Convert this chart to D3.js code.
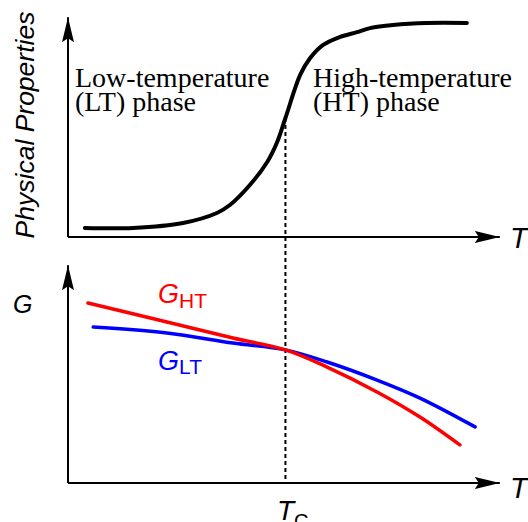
<!DOCTYPE html>
<html lang="en">
<head>
    <meta charset="UTF-8">
    <title>Phase transition sketch</title>
    <script src="https://d3js.org/d3.v7.min.js"></script>
    <style>
        body{ margin: 0; background: white; }
        .sans{ font-family: "Liberation Sans", Arial, sans-serif; font-style: italic; }
        .serif{ font-family: "Liberation Serif", "Times New Roman", serif; }
    </style>
</head>
<body>
<svg id="canvas" width="528" height="522"></svg>
<script>
    // T in arbitrary units (0..100), Tc where the curves cross
    let Tc = 50.1;
    // top panel: physical property vs T
    let propT = [3.9, 15.0, 26.5, 34.3, 37.3, 41.9, 45.9, 48.2, 50.1, 53.5, 55.8, 58.8, 62.7, 66.6, 69.6, 74.9, 82.7, 91.9];
    let propV = [4.1, 4.1, 6.3, 10.8, 14.4, 23.4, 33.8, 42.8, 53.6, 73.0, 80.6, 86.5, 90.1, 92.3, 94.1, 95.5, 96.4, 96.4];
    // bottom panel: free energies
    let gHtT = [4.6, 22.8, 38.0, 50.1, 59.7, 71.2, 81.1, 90.3];
    let gHtV = [81.8, 73.2, 65.9, 60.5, 52.7, 41.4, 30.0, 17.3];
    let gLtT = [5.8, 22.8, 38.0, 50.1, 59.7, 71.2, 81.1, 93.8];
    let gLtV = [70.9, 68.2, 63.6, 60.5, 55.0, 46.8, 38.6, 25.5];

    let svg = d3.select('#canvas');

    // arrow head
    svg.append('defs').append('marker')
        .attr('id', 'arrow')
        .attr('viewBox', '0 -7 26 14')
        .attr('refX', 25).attr('refY', 0)
        .attr('markerUnits', 'userSpaceOnUse')
        .attr('markerWidth', 26).attr('markerHeight', 14)
        .attr('orient', 'auto')
        .append('path')
        .attr('d', 'M0,-6 L25,0 L0,6 L4,0 Z')
        .attr('fill', 'black');

    let x = d3.scaleLinear().domain([0, 100]).range([68, 502]);
    let yTop = d3.scaleLinear().domain([0, 100]).range([237, 15]);
    let yBot = d3.scaleLinear().domain([0, 100]).range([483, 263]);

    function axes(y, xEnd, yEnd){
        svg.append('line')
            .attr('x1', x(0)).attr('y1', y(0)).attr('x2', x(xEnd)).attr('y2', y(0))
            .attr('stroke', 'black').attr('stroke-width', 2)
            .attr('marker-end', 'url(#arrow)');
        svg.append('line')
            .attr('x1', x(0)).attr('y1', y(0)).attr('x2', x(0)).attr('y2', y(yEnd))
            .attr('stroke', 'black').attr('stroke-width', 2)
            .attr('marker-end', 'url(#arrow)');
    }
    axes(yTop, 99.5, 99);
    axes(yBot, 99.5, 99);

    // dashed Tc line
    svg.append('line')
        .attr('x1', x(Tc)).attr('x2', x(Tc))
        .attr('y1', yTop(propV[propT.indexOf(Tc)])).attr('y2', yBot(0))
        .attr('stroke', 'black').attr('stroke-width', 2)
        .attr('stroke-dasharray', '4,3');

    function curve(ts, vs, y, color, width){
        let line = d3.line()
            .x(function(d){ return x(d[0]); })
            .y(function(d){ return y(d[1]); })
            .curve(d3.curveCatmullRom.alpha(0.5));
        svg.append('path')
            .datum(d3.zip(ts, vs))
            .attr('d', line)
            .attr('fill', 'none')
            .attr('stroke', color)
            .attr('stroke-width', width)
            .attr('stroke-linecap', 'round');
    }
    curve(propT, propV, yTop, 'black', 4);
    curve(gLtT, gLtV, yBot, '#0000ff', 3.5);
    curve(gHtT, gHtV, yBot, '#ff0000', 3.5);

    // labels
    svg.append('text').attr('class', 'sans')
        .attr('transform', 'translate(34,125) rotate(-90)')
        .attr('text-anchor', 'middle')
        .style('font-size', '26.5px')
        .text('Physical Properties');

    svg.append('text').attr('class', 'serif').attr('x', 75).attr('y', 87)
        .style('font-size', '28px').text('Low-temperature');
    svg.append('text').attr('class', 'serif').attr('x', 75).attr('y', 111)
        .style('font-size', '28px').text('(LT) phase');
    svg.append('text').attr('class', 'serif').attr('x', 313).attr('y', 87)
        .style('font-size', '28px').text('High-temperature');
    svg.append('text').attr('class', 'serif').attr('x', 313).attr('y', 111)
        .style('font-size', '28px').text('(HT) phase');

    svg.append('text').attr('class', 'sans').attr('x', 510).attr('y', 248)
        .style('font-size', '29px').text('T');
    svg.append('text').attr('class', 'sans').attr('x', 510).attr('y', 498)
        .style('font-size', '29px').text('T');
    svg.append('text').attr('class', 'sans').attr('x', 13).attr('y', 313)
        .style('font-size', '25px').text('G');

    let tc = svg.append('text').attr('class', 'sans').attr('x', 277).attr('y', 520)
        .style('font-size', '28px');
    tc.append('tspan').text('T');
    tc.append('tspan').attr('dy', 8).style('font-style', 'normal').style('font-size', '20px').text('C');

    let ght = svg.append('text').attr('class', 'sans').attr('x', 158).attr('y', 303)
        .attr('fill', '#ff0000').style('font-size', '27px');
    ght.append('tspan').text('G');
    ght.append('tspan').attr('dy', 5).style('font-style', 'normal').style('font-size', '21px').text('HT');

    let glt = svg.append('text').attr('class', 'sans').attr('x', 158).attr('y', 370)
        .attr('fill', '#0000ff').style('font-size', '27px');
    glt.append('tspan').text('G');
    glt.append('tspan').attr('dy', 4).style('font-style', 'normal').style('font-size', '21px').text('LT');
</script>
</body>
</html>
